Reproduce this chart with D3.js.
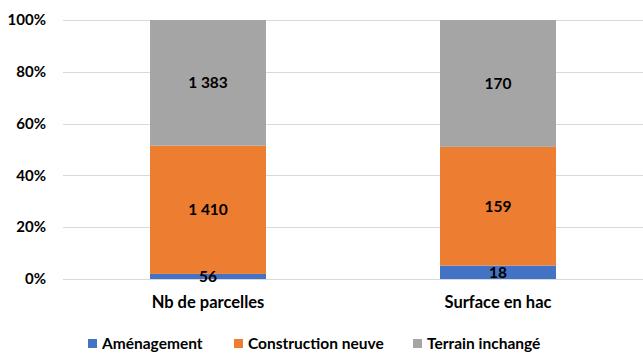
<!DOCTYPE html>
<html><head><meta charset="utf-8">
<script src="https://cdn.jsdelivr.net/npm/d3@7"></script>
<style>body{margin:0;background:#fff}svg{display:block}text{font-family:Lato,"Open Sans",sans-serif;font-weight:bold;fill:#000}</style>
</head><body>
<svg id="c" width="643" height="354"></svg>
<script>
const categories = ["Nb de parcelles", "Surface en hac"];
const seriesNames = ["Aménagement", "Construction neuve", "Terrain inchangé"];
const amenagement = [56, 18];
const constructionNeuve = [1410, 159];
const terrainInchange = [1383, 170];
const yTicks = [0, 0.2, 0.4, 0.6, 0.8, 1];
const colors = ["#4472C4", "#ED7D31", "#A5A5A5"];

const svg = d3.select("#c");
const m = {l: 63, r: 0, t: 20, b: 75};
const W = 643, H = 354;
const rows = categories.map((c, i) => ({cat: c, "Aménagement": amenagement[i], "Construction neuve": constructionNeuve[i], "Terrain inchangé": terrainInchange[i]}));
const stack = d3.stack().keys(seriesNames).offset(d3.stackOffsetExpand);
const series = stack(rows);

const x = d3.scaleBand().domain(categories).range([m.l, W - m.r]).paddingInner(0.6).paddingOuter(0.3);
const y = d3.scaleLinear().domain([0, 1]).range([279, 20]);

const fmt = v => d3.format(",")(v).replace(/,/g, " ");

svg.append("g").selectAll("line").data(yTicks).join("line")
  .attr("x1", m.l).attr("x2", W).attr("y1", d => Math.round(y(d)) + 0.5).attr("y2", d => Math.round(y(d)) + 0.5)
  .attr("stroke", "#d9d9d9").attr("stroke-width", 1);

svg.append("g").selectAll("text").data(yTicks).join("text")
  .attr("x", 46).attr("y", d => y(d)).attr("dy", "0.35em").attr("text-anchor", "end")
  .attr("font-size", 15).text(d => d3.format(".0%")(d));

const g = svg.append("g");
series.forEach((s, si) => {
  g.append("g").selectAll("rect").data(s).join("rect")
    .attr("x", d => x(d.data.cat)).attr("width", x.bandwidth())
    .attr("y", d => y(d[1])).attr("height", d => y(d[0]) - y(d[1]))
    .attr("fill", colors[si]);
});
series.forEach((s, si) => {
  g.append("g").selectAll("text").data(s).join("text")
    .attr("x", d => x(d.data.cat) + x.bandwidth() / 2)
    .attr("y", d => (y(d[0]) + y(d[1])) / 2)
    .attr("dy", "0.35em").attr("text-anchor", "middle").attr("font-size", 15.5)
    .text(d => fmt(d.data[s.key]));
});

svg.append("g").selectAll("text").data(categories).join("text")
  .attr("x", d => x(d) + x.bandwidth() / 2).attr("y", 302).attr("dy", "0.35em")
  .attr("text-anchor", "middle").attr("font-size", 16.5).text(d => d);

const legX = [88, 234, 413];
const lg = svg.append("g").selectAll("g").data(seriesNames).join("g")
  .attr("transform", (d, i) => `translate(${legX[i]},344)`);
lg.append("rect").attr("x", 0).attr("y", -5).attr("width", 9).attr("height", 9).attr("fill", (d, i) => colors[i]);
lg.append("text").attr("x", 14).attr("y", 0).attr("dy", "0.35em").attr("font-size", 15.5).text(d => d);
</script>
</body></html>
